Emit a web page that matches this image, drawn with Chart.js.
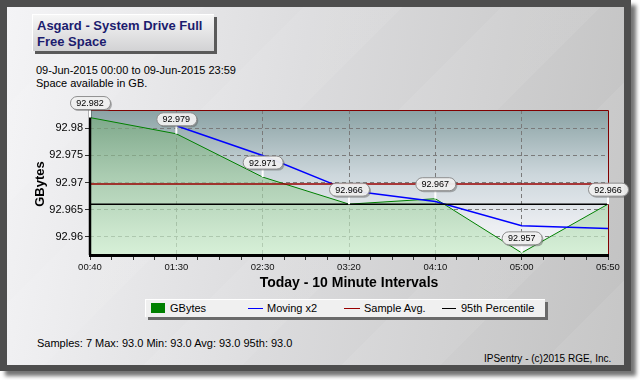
<!DOCTYPE html>
<html>
<head>
<meta charset="utf-8">
<script src="https://cdn.jsdelivr.net/npm/chart.js@4.4.0/dist/chart.umd.min.js"></script>
<style>
  html, body { margin: 0; padding: 0; background: #fff; }
  #wrap { position: relative; width: 640px; height: 380px; overflow: hidden; font-family: Arial, "Liberation Sans", sans-serif; }
  #frame { position: absolute; left: 0; top: 0; width: 631px; height: 371px; background: #4e4e4e; box-shadow: 5px 5px 4px rgba(0,0,0,0.55); }
  #panel {
    position: absolute; left: 7px; top: 7px; width: 617px; height: 358px;
    background:
      repeating-linear-gradient(135deg, rgba(255,255,255,0) 0 70px, rgba(255,255,255,0.07) 70px 140px),
      linear-gradient(100deg, #f4f4f6 0%, #dcdcde 45%, #c2c2c2 100%);
  }
  #title {
    position: absolute; left: 32px; top: 14px; width: 177px; height: 33px; padding: 3px 0 0 4px;
    background: linear-gradient(#f6f6f6, #d2d2d4); border-top: 1px solid #fff; border-left: 1px solid #fff;
    box-shadow: 3px 3px 0 #5a5a5a; white-space: nowrap;
    color: #1c1c6e; font-weight: bold; font-size: 13px; line-height: 16px;
  }
  .sub { position: absolute; left: 36px; font-size: 11px; color: #000; }
  #legend {
    position: absolute; left: 145px; top: 299px; width: 399px; height: 17px;
    background: #f0f0f0; border-top: 1px solid #fff; border-left: 1px solid #fff;
    box-shadow: 3px 3px 0 #6a6a6a; font-size: 11px; color: #000;
  }
  .li { position: absolute; top: 2px; line-height: 13px; }
  .sw { position: absolute; }
  canvas { position: absolute; left: 0; top: 0; }
</style>
</head>
<body>
<div id="wrap">
  <div id="frame"></div>
  <div id="panel"></div>
  <div id="title">Asgard - System Drive Full<br>Free Space</div>
  <div class="sub" style="top:64px">09-Jun-2015 00:00 to 09-Jun-2015 23:59</div>
  <div class="sub" style="top:77px">Space available in GB.</div>
  <div id="legend">
    <div class="sw" style="left:5px;top:3px;width:14px;height:10px;background:#008000"></div>
    <div class="li" style="left:24px">GBytes</div>
    <div class="sw" style="left:102px;top:8px;width:15px;height:1px;background:#0000ff"></div>
    <div class="li" style="left:121px">Moving x2</div>
    <div class="sw" style="left:198px;top:8px;width:16px;height:1px;background:#990000"></div>
    <div class="li" style="left:218px">Sample Avg.</div>
    <div class="sw" style="left:296px;top:8px;width:14px;height:1px;background:#000"></div>
    <div class="li" style="left:315px">95th Percentile</div>
  </div>
  <div class="sub" style="left:37px;top:337px">Samples: 7 Max: 93.0 Min: 93.0 Avg: 93.0 95th: 93.0</div>
  <div class="sub" style="left:484px;top:353px;font-size:10px">IPSentry - (c)2015 RGE, Inc.</div>
  <canvas id="chart" width="640" height="380"></canvas>
</div>
<script>
// time labels along the x axis (10 minute samples)
const timeLabels = ["00:40", "01:30", "02:30", "03:20", "04:10", "05:00", "05:50"];
const gbytes = [92.982, 92.979, 92.971, 92.966, 92.967, 92.957, 92.966];
const movingX2 = [null, 92.9805, 92.975, 92.9685, 92.9665, 92.962, 92.9615];
const sampleAvg = 92.9697;
const percentile95 = 92.966;
const yTicks = [92.96, 92.965, 92.97, 92.975, 92.98];

const FONT = 'Arial, "Liberation Sans", sans-serif';

const toPoints = (arr) =>
  arr.map((y, i) => ({ x: i, y })).filter((p) => p.y !== null);
const flat = (v) => timeLabels.map((_, i) => ({ x: i, y: v }));

// background, plot frame, value pills, axis titles
const decor = {
  id: "decor",
  beforeDraw(chart) {
    const { ctx, chartArea: a } = chart;
    const g = ctx.createLinearGradient(0, a.top, 0, a.bottom);
    g.addColorStop(0, "#8aa2a4");
    g.addColorStop(0.45, "#cdd7dc");
    g.addColorStop(0.8, "#eceef2");
    g.addColorStop(1, "#f5f6f8");
    ctx.save();
    ctx.fillStyle = g;
    ctx.fillRect(a.left, a.top, a.width, a.height);
    ctx.restore();
  },
  afterDatasetsDraw(chart) {
    const { ctx, chartArea: a } = chart;
    ctx.save();
    // frame
    ctx.strokeStyle = "#800000";
    ctx.lineWidth = 1;
    ctx.beginPath();
    ctx.moveTo(a.left, a.top + 0.5);
    ctx.lineTo(a.right + 0.5, a.top + 0.5);
    ctx.lineTo(a.right + 0.5, a.bottom);
    ctx.stroke();
    ctx.strokeStyle = "#000";
    ctx.lineWidth = 2.5;
    ctx.beginPath();
    ctx.moveTo(a.left, a.top);
    ctx.lineTo(a.left, a.bottom);
    ctx.stroke();
    ctx.lineWidth = 3;
    ctx.beginPath();
    ctx.moveTo(a.left - 1, a.bottom + 0.5);
    ctx.lineTo(a.right + 1, a.bottom + 0.5);
    ctx.stroke();

    // value pills over the GBytes points
    const meta = chart.getDatasetMeta(0);
    ctx.font = "9px " + FONT;
    ctx.textAlign = "center";
    ctx.textBaseline = "middle";
    meta.data.forEach((pt, i) => {
      const x = pt.x, y = pt.y;
      const cy = y - 15;
      ctx.strokeStyle = "#fff";
      ctx.lineWidth = 2;
      ctx.beginPath();
      ctx.moveTo(x, cy + 6);
      ctx.lineTo(x, y);
      ctx.stroke();
      const w = 40, h = 13;
      ctx.fillStyle = "rgba(90,90,90,0.45)";
      ctx.beginPath();
      ctx.roundRect(x - w / 2 + 2, cy - h / 2 + 2, w, h, 6.5);
      ctx.fill();
      ctx.fillStyle = "rgba(244,244,244,0.92)";
      ctx.strokeStyle = "#8c8c8c";
      ctx.lineWidth = 1;
      ctx.beginPath();
      ctx.roundRect(x - w / 2 + 0.5, cy - h / 2 + 0.5, w, h, 6.5);
      ctx.fill();
      ctx.stroke();
      ctx.fillStyle = "#000";
      ctx.fillText(gbytes[i].toFixed(3), x, cy + 1);
    });
    ctx.restore();
  },
  afterDraw(chart) {
    const { ctx, chartArea: a } = chart;
    ctx.save();
    ctx.fillStyle = "#000";
    ctx.textAlign = "center";
    ctx.textBaseline = "middle";
    ctx.font = "bold 14px " + FONT;
    ctx.fillText("Today - 10 Minute Intervals", (a.left + a.right) / 2, 283);
    ctx.translate(40, 184);
    ctx.rotate(-Math.PI / 2);
    ctx.font = "bold 13px " + FONT;
    ctx.fillText("GBytes", 0, 0);
    ctx.restore();
  },
};

const ctx = document.getElementById("chart").getContext("2d");

new Chart(ctx, {
  type: "line",
  data: {
    datasets: [
      {
        label: "GBytes",
        data: toPoints(gbytes),
        borderColor: "#008000",
        borderWidth: 1,
        fill: "start",
        backgroundColor: (c) => {
          const area = c.chart.chartArea;
          if (!area) return "rgba(0,128,0,0.3)";
          const g = c.chart.ctx.createLinearGradient(0, area.top, 0, area.bottom);
          g.addColorStop(0, "rgba(110,165,115,0.6)");
          g.addColorStop(1, "rgba(205,238,205,0.75)");
          return g;
        },
        pointRadius: 0,
        order: 4,
      },
      {
        label: "Moving x2",
        data: toPoints(movingX2),
        borderColor: "#0000ff",
        borderWidth: 1.5,
        pointRadius: 0,
        order: 3,
      },
      {
        label: "Sample Avg.",
        data: flat(sampleAvg),
        borderColor: "#990000",
        borderWidth: 1.5,
        pointRadius: 0,
        order: 2,
      },
      {
        label: "95th Percentile",
        data: flat(percentile95),
        borderColor: "#000000",
        borderWidth: 1.5,
        pointRadius: 0,
        order: 1,
      },
    ],
  },
  options: {
    responsive: false,
    animation: false,
    devicePixelRatio: 1,
    layout: { padding: { left: 0, right: 32, top: 110, bottom: 100 } },
    plugins: { legend: { display: false }, tooltip: { enabled: false } },
    scales: {
      x: {
        type: "linear",
        min: 0,
        max: timeLabels.length - 1,
        afterBuildTicks: (s) => {
          const t = [];
          for (let i = 0; i <= (timeLabels.length - 1) * 4; i++) t.push({ value: i / 4 });
          s.ticks = t;
        },
        afterFit: (s) => { s.height = 25; },
        border: { display: false, dash: [4, 3] },
        grid: {
          color: (c) => {
            const v = c.tick && c.tick.value;
            return Number.isInteger(v) && v > 0 && v < timeLabels.length - 1 ? "#7a7a7a" : "rgba(0,0,0,0)";
          },
          tickColor: "#333",
          tickLength: 5,
          lineWidth: 1,
        },
        ticks: {
          autoSkip: false,
          maxRotation: 0,
          padding: 2,
          color: "#111",
          font: { family: FONT, size: 9.5 },
          callback: (v) => (Number.isInteger(v) ? timeLabels[v] : ""),
        },
      },
      y: {
        min: 92.9566,
        max: 92.9834,
        afterBuildTicks: (s) => { s.ticks = yTicks.map((v) => ({ value: v })); },
        afterFit: (s) => { s.width = 90; },
        border: { display: false, dash: [4, 3] },
        grid: { color: "#7a7a7a", tickColor: "#333", tickLength: 5, lineWidth: 1 },
        ticks: {
          padding: 2,
          color: "#000",
          font: { family: FONT, size: 11 },
          callback: (v) => String(+v.toFixed(3)),
        },
      },
    },
  },
  plugins: [decor],
});
</script>
</body>
</html>
